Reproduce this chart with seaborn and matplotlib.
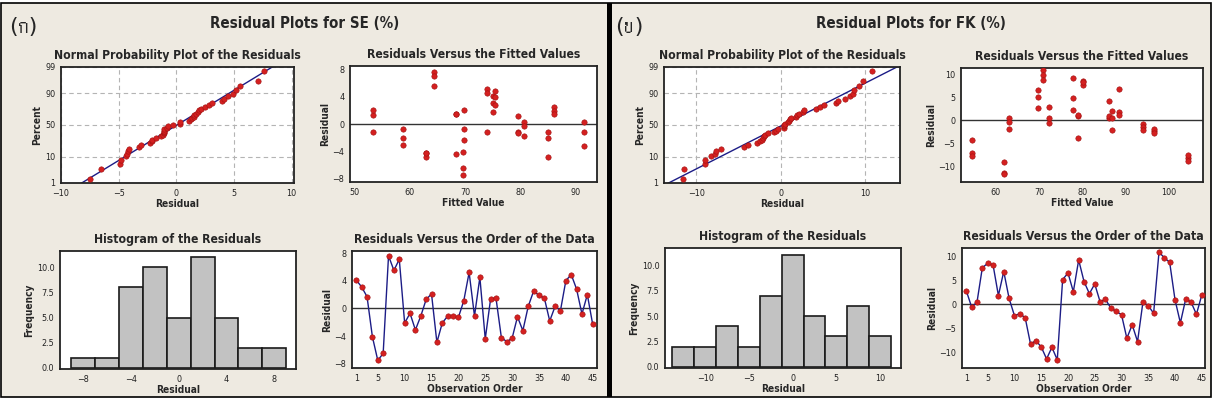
import numpy as np
import matplotlib
matplotlib.use("Agg")
import matplotlib.pyplot as plt
from matplotlib import font_manager as fm
from matplotlib.patches import Rectangle
from statistics import NormalDist
import seaborn as sns

se_resid = [4.1, 3.1, 1.7, -4.1, -7.5, -6.5, 7.6, 5.5, 7.1, -2.1, -0.7, -3.1, -1.1, 1.3, 2.1,
            -4.9, -2.1, -1.1, -1.1, -1.3, 1.1, 5.2, -1.1, 4.5, -4.4, 1.4, 1.5, -4.2, -4.8, -4.3,
            -1.2, -3.2, 0.3, 2.5, 1.9, 1.5, -1.8, 0.3, -0.3, 4.0, 4.9, 2.8, -0.8, 2.0, -2.3]
# fitted value of the 15 runs (3 replicates each: obs 1-3, 4-6, ...)
se_fit_runs = [75.1, 69.6, 64.3, 58.8, 53.3, 84.9, 79.5, 73.9, 68.4, 63.0, 91.5, 86.1, 80.6, 75.3, 69.7]

fk_resid = [2.8, -0.6, 0.4, 7.6, 8.5, 8.2, 1.8, 6.8, 1.2, -2.4, -2.0, -2.8, -8.3, -7.6, -8.9,
            -11.4, -9.0, -11.6, 5.1, 6.5, 2.6, 9.2, 4.7, 2.2, 4.2, 0.5, 1.0, -0.8, -1.5, -2.2,
            -7.1, -4.3, -7.8, 0.4, -0.3, -1.9, 10.8, 9.7, 8.7, 0.9, -3.9, 1.1, 0.4, -2.1, 1.9]
fk_fit_runs = [72.3, 80.2, 88.4, 96.4, 104.3, 62.0, 69.7, 77.8, 86.1, 93.9, 54.6, 63.0, 70.8, 79.0, 86.9]

se_bins = [-9, -7, -5, -3, -1, 1, 3, 5, 7, 9]
fk_bins = [-13.75, -11.25, -8.75, -6.25, -3.75, -1.25, 1.25, 3.75, 6.25, 8.75, 11.25]
pct_ticks = [1, 10, 50, 90, 99]

sns.set_style("white")
plt.rcParams['font.family'] = ['DejaVu Sans']
plt.rcParams['font.stretch'] = 'condensed'

RED = '#d42020'
NAVY = '#1c1c86'
BG = '#eeeae1'
W, H = 1213, 405
nd = NormalDist()


def thai_family():
    # the panel tags are Thai letters, look for any installed font that has them
    try:
        from fontTools.ttLib import TTFont
    except ImportError:
        return ['DejaVu Sans']
    for path in fm.findSystemFonts():
        try:
            cmap = TTFont(path, fontNumber=0, lazy=True).getBestCmap()
            if cmap and 0x0E01 in cmap and 0x0E02 in cmap:
                fm.fontManager.addfont(path)
                return ['DejaVu Sans', fm.FontProperties(fname=path).get_name()]
        except Exception:
            continue
    return ['DejaVu Sans']


TAG_FAMILY = thai_family()

fig = plt.figure(figsize=(W / 100, H / 100), dpi=100, facecolor='white')
fig.add_artist(Rectangle((1 / W, 1 - 397 / H), 1210 / W, 394 / H, transform=fig.transFigure,
                         facecolor=BG, edgecolor='black', lw=1.2, zorder=-10))
fig.add_artist(Rectangle((607 / W, 1 - 397 / H), 5 / W, 394 / H, transform=fig.transFigure,
                         facecolor='black', edgecolor='none', zorder=-9))


def rect(l, t, r, b):
    return [l / W, 1 - b / H, (r - l) / W, (b - t) / H]


def style(ax, title, xlabel, ylabel, xlim, ylim, xticks, yticks):
    ax.set_facecolor('white')
    for s in ax.spines.values():
        s.set_color('#222222')
        s.set_linewidth(1.3)
    ax.set_xlim(xlim)
    ax.set_ylim(ylim)
    ax.set_xticks(xticks)
    if yticks is not None:
        ax.set_yticks(yticks)
    ax.tick_params(labelsize=6.5, length=3, width=0.8, pad=1, direction='out', colors='#222222')
    ax.set_title(title, fontsize=8.7, fontweight='bold', pad=6)
    ax.set_xlabel(xlabel, fontsize=7.3, fontweight='bold', labelpad=1)
    ax.set_ylabel(ylabel, fontsize=7.3, fontweight='bold', labelpad=2)


def panel(tag, title, cx, resid, fit_runs, bins, r, lim):
    resid = np.array(resid)
    fitted = np.repeat(fit_runs, 3)
    obs = np.arange(1, len(resid) + 1)

    fig.text((cx - 296) / W, 1 - 27 / H, tag, family=TAG_FAMILY, fontsize=16,
             fontstretch='normal', ha='left', va='center')
    fig.text(cx / W, 1 - 23 / H, title, fontsize=10.8, fontweight='bold', ha='center', va='center')

    # normal probability plot
    ax = fig.add_axes(rect(*r['norm']))
    n = len(resid)
    z = [nd.inv_cdf((i - 0.3) / (n + 0.4)) for i in range(1, n + 1)]
    mu, sd = resid.mean(), resid.std(ddof=1)
    zz = np.array([nd.inv_cdf(0.003), nd.inv_cdf(0.997)])
    ax.plot(mu + sd * zz, zz, color=NAVY, lw=1)
    sns.scatterplot(x=np.sort(resid), y=z, ax=ax, color=RED, s=15, edgecolor='#a01010',
                    linewidth=0.4, zorder=3)
    style(ax, 'Normal Probability Plot of the Residuals', 'Residual', 'Percent',
          lim['norm_x'], (nd.inv_cdf(0.01), nd.inv_cdf(0.99)), lim['norm_xt'],
          [nd.inv_cdf(p / 100) for p in pct_ticks])
    ax.set_yticklabels([str(p) for p in pct_ticks])
    ax.set_axisbelow(True)
    ax.grid(True, linestyle='--', dashes=(4, 3), color='#b4b4b4', linewidth=0.8)

    # residuals vs fitted
    ax = fig.add_axes(rect(*r['fit']))
    ax.axhline(0, color='#333333', lw=1)
    sns.scatterplot(x=fitted, y=resid, ax=ax, color=RED, s=15, edgecolor='#a01010',
                    linewidth=0.4, zorder=3)
    style(ax, 'Residuals Versus the Fitted Values', 'Fitted Value', 'Residual',
          lim['fit_x'], lim['res_y'], lim['fit_xt'], lim['res_yt'])

    # histogram
    ax = fig.add_axes(rect(*r['hist']))
    sns.histplot(x=resid, bins=bins, ax=ax, color='#c2c2c2', edgecolor='#1a1a1a',
                 linewidth=1.2, alpha=1)
    style(ax, 'Histogram of the Residuals', 'Residual', 'Frequency',
          lim['hist_x'], lim['hist_y'], lim['hist_xt'], [0, 2.5, 5, 7.5, 10])
    ax.set_yticklabels(['0.0', '2.5', '5.0', '7.5', '10.0'])

    # residuals vs order
    ax = fig.add_axes(rect(*r['order']))
    ax.axhline(0, color='#333333', lw=1)
    sns.lineplot(x=obs, y=resid, ax=ax, color=NAVY, lw=1)
    sns.scatterplot(x=obs, y=resid, ax=ax, color=RED, s=15, edgecolor='#a01010',
                    linewidth=0.4, zorder=3)
    style(ax, 'Residuals Versus the Order of the Data', 'Observation Order', 'Residual',
          lim['ord_x'], lim['ord_y'], [1, 5, 10, 15, 20, 25, 30, 35, 40, 45], lim['res_yt'])


panel('(ก)', 'Residual Plots for SE (%)', 305, se_resid, se_fit_runs, se_bins,
      {'norm': (61, 67, 294, 183), 'fit': (350, 66, 597, 182),
       'hist': (60, 251, 296, 369), 'order': (352, 251, 597, 368)},
      {'norm_x': (-10, 10.2), 'norm_xt': [-10, -5, 0, 5, 10],
       'fit_x': (49.2, 93.8), 'fit_xt': [50, 60, 70, 80, 90],
       'res_y': (-8.5, 8.5), 'res_yt': [-8, -4, 0, 4, 8],
       'hist_x': (-9.9, 9.8), 'hist_y': (-0.1, 11.6), 'hist_xt': [-8, -4, 0, 4, 8],
       'ord_x': (0.2, 45.8), 'ord_y': (-8.6, 8.3)})

panel('(ข)', 'Residual Plots for FK (%)', 911, fk_resid, fk_fit_runs, fk_bins,
      {'norm': (664, 67, 900, 183), 'fit': (961, 68, 1203, 182),
       'hist': (665, 248, 901, 368), 'order': (962, 248, 1205, 368)},
      {'norm_x': (-13.8, 14.1), 'norm_xt': [-10, 0, 10],
       'fit_x': (52.0, 107.8), 'fit_xt': [60, 70, 80, 90, 100],
       'res_y': (-13.4, 11.3), 'res_yt': [-10, -5, 0, 5, 10],
       'hist_x': (-14.6, 12.4), 'hist_y': (-0.1, 11.7), 'hist_xt': [-10, -5, 0, 5, 10],
       'ord_x': (0.2, 45.6), 'ord_y': (-13.3, 11.7)})

fig.savefig('out.png', dpi=100, facecolor='white')
